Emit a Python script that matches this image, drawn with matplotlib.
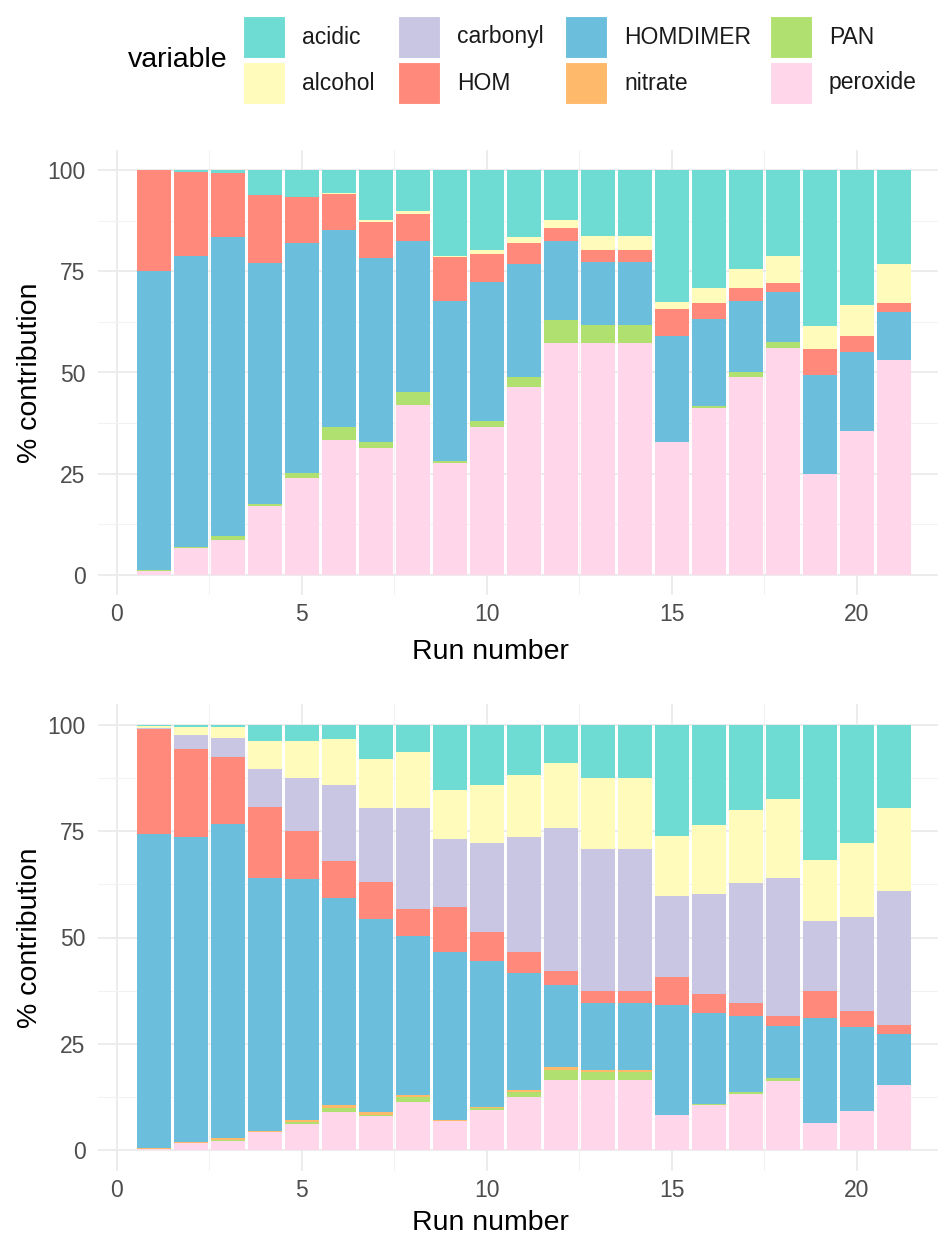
import numpy as np
import matplotlib
matplotlib.use("Agg")
import matplotlib.pyplot as plt
from matplotlib.patches import Rectangle

plt.rcParams['font.family'] = ['Liberation Sans', 'DejaVu Sans']

runs = np.arange(1, 22)

# stacking order, bottom -> top
variables = ["peroxide", "PAN", "nitrate", "HOMDIMER", "HOM", "carbonyl", "alcohol", "acidic"]
colours = {
    "acidic": "#6EDCD2",
    "alcohol": "#FFFCBB",
    "carbonyl": "#C9C6E3",
    "HOM": "#FF8A7B",
    "HOMDIMER": "#6CBEDD",
    "nitrate": "#FFB96B",
    "PAN": "#B0E170",
    "peroxide": "#FFD6EA",
}

# ---- upper panel (% contribution per run)
top_peroxide = [1.0, 6.5, 8.5, 17.1, 24.0, 33.3, 31.3, 42.0, 27.6, 36.6, 46.3,
                57.4, 57.4, 57.4, 32.8, 41.2, 48.9, 56.1, 24.9, 35.5, 53.0]
top_PAN = [0.3, 0.3, 1.0, 0.4, 1.2, 3.3, 1.5, 3.2, 0.4, 1.3, 2.7,
           5.7, 4.3, 4.3, 0.1, 0.5, 1.2, 1.4, 0.0, 0.0, 0.0]
top_nitrate = [0.0] * 21
top_HOMDIMER = [73.8, 71.9, 73.9, 59.6, 56.9, 48.7, 45.6, 37.4, 39.7, 34.5, 27.9,
                19.3, 15.7, 15.7, 26.0, 21.5, 17.5, 12.5, 24.6, 19.6, 12.0]
top_HOM = [24.9, 20.8, 15.8, 16.9, 11.3, 8.9, 8.9, 6.5, 10.8, 6.9, 5.0,
           3.2, 3.0, 3.0, 6.8, 4.0, 3.2, 2.2, 6.3, 3.8, 2.1]
top_carbonyl = [0.0] * 21
top_alcohol = [0.0, 0.0, 0.0, 0.0, 0.0, 0.2, 0.4, 0.8, 0.4, 0.9, 1.5,
               2.2, 3.4, 3.4, 1.7, 3.8, 4.8, 6.6, 5.7, 7.9, 9.7]
top_acidic = [0.0, 0.5, 0.8, 6.0, 6.6, 5.6, 12.3, 10.1, 21.1, 19.8, 16.6,
              12.2, 16.2, 16.2, 32.6, 29.0, 24.4, 21.2, 38.5, 33.2, 23.2]

# ---- lower panel
bot_peroxide = [0.2, 1.6, 2.1, 4.2, 6.0, 8.8, 8.0, 11.2, 6.7, 9.3, 12.5,
                16.5, 16.5, 16.5, 8.1, 10.6, 13.1, 16.1, 6.2, 9.2, 15.2]
bot_PAN = [0.0, 0.1, 0.3, 0.1, 0.5, 1.0, 0.3, 1.2, 0.1, 0.5, 1.1,
           2.2, 1.8, 1.8, 0.0, 0.2, 0.6, 0.7, 0.0, 0.0, 0.0]
bot_nitrate = [0.1, 0.2, 0.3, 0.2, 0.4, 0.8, 0.5, 0.5, 0.2, 0.3, 0.4,
               0.9, 0.5, 0.5, 0.1, 0.0, 0.0, 0.0, 0.0, 0.0, 0.0]
bot_HOMDIMER = [74.0, 71.8, 74.1, 59.6, 56.8, 48.7, 45.5, 37.5, 39.5, 34.4, 27.7,
                19.1, 15.8, 15.8, 25.8, 21.5, 17.8, 12.4, 24.9, 19.7, 12.1]
bot_HOM = [24.9, 20.7, 15.8, 16.7, 11.4, 8.7, 8.8, 6.3, 10.8, 6.7, 4.8,
           3.3, 2.7, 2.7, 6.7, 4.3, 3.0, 2.3, 6.2, 3.7, 2.1]
bot_carbonyl = [0.2, 3.2, 4.3, 9.0, 12.5, 18.0, 17.4, 23.8, 16.0, 21.1, 27.1,
                33.8, 33.5, 33.5, 19.1, 23.7, 28.4, 32.6, 16.7, 22.3, 31.6]
bot_alcohol = [0.5, 2.0, 2.6, 6.5, 8.6, 10.7, 11.6, 13.1, 11.4, 13.6, 14.7,
               15.4, 16.7, 16.7, 14.1, 16.2, 17.1, 18.6, 14.2, 17.3, 19.6]
bot_acidic = [0.1, 0.4, 0.5, 3.7, 3.8, 3.3, 7.9, 6.4, 15.3, 14.1, 11.7,
              8.8, 12.5, 12.5, 26.1, 23.5, 20.0, 17.3, 31.8, 27.8, 19.4]

top_data = {"peroxide": top_peroxide, "PAN": top_PAN, "nitrate": top_nitrate,
            "HOMDIMER": top_HOMDIMER, "HOM": top_HOM, "carbonyl": top_carbonyl,
            "alcohol": top_alcohol, "acidic": top_acidic}
bot_data = {"peroxide": bot_peroxide, "PAN": bot_PAN, "nitrate": bot_nitrate,
            "HOMDIMER": bot_HOMDIMER, "HOM": bot_HOM, "carbonyl": bot_carbonyl,
            "alcohol": bot_alcohol, "acidic": bot_acidic}

W, H = 938, 1241
fig = plt.figure(figsize=(W / 100, H / 100), dpi=100)


def px_axes(left, top, right, bottom):
    return fig.add_axes([left / W, 1 - bottom / H, (right - left) / W, (bottom - top) / H])


def draw_panel(ax, data):
    base = np.zeros(len(runs))
    for v in variables:
        vals = np.array(data[v])
        ax.bar(runs, vals, bottom=base, width=0.9, color=colours[v], linewidth=0)
        base += vals
    ax.set_xlim(-0.51, 22.19)
    ax.set_ylim(-5, 105)
    ax.set_xticks([0, 5, 10, 15, 20])
    ax.set_xticks([2.5, 7.5, 12.5, 17.5], minor=True)
    ax.set_yticks([0, 25, 50, 75, 100])
    ax.set_yticks([12.5, 37.5, 62.5, 87.5], minor=True)
    ax.set_axisbelow(True)
    ax.grid(which="major", color="#EBEBEB", linewidth=1.3)
    ax.grid(which="minor", color="#F2F2F2", linewidth=0.8)
    for s in ax.spines.values():
        s.set_visible(False)
    ax.tick_params(which="both", length=0, labelsize=16.5, labelcolor="#4D4D4D")
    ax.tick_params(axis="y", pad=9)
    ax.tick_params(axis="x", pad=6)
    ax.set_xlabel("Run number", fontsize=20.5, va="center")
    ax.set_ylabel("% contribution", fontsize=20.5, va="center")


ax1 = px_axes(98, 150, 938, 595)
draw_panel(ax1, top_data)
ax1.xaxis.set_label_coords((490 - 98) / 840, (595 - 652) / 445)
ax1.yaxis.set_label_coords((30 - 98) / 840, 0.5)

ax2 = px_axes(98, 704, 938, 1171)
draw_panel(ax2, bot_data)
ax2.xaxis.set_label_coords((490 - 98) / 840, (1171 - 1223) / 467)
ax2.yaxis.set_label_coords((30 - 98) / 840, 0.5)

# legend: 2 rows x 4 columns, filled column-wise
legend_order = ["acidic", "alcohol", "carbonyl", "HOM", "HOMDIMER", "nitrate", "PAN", "peroxide"]
col_x = [243, 398, 565, 770]
row_y = [16, 62]
key = 42
for i, name in enumerate(legend_order):
    cx = col_x[i // 2]
    ry = row_y[i % 2]
    fig.add_artist(Rectangle((cx / W, 1 - (ry + key) / H), key / W, key / H,
                             transform=fig.transFigure, facecolor=colours[name],
                             edgecolor="white", linewidth=0.8))
    fig.text((cx + key + 17) / W, 1 - (ry + key / 2) / H, name,
             fontsize=16.5, va="center", ha="left", color="#1A1A1A")
fig.text(228 / W, 1 - 60 / H, "variable", fontsize=20.5, ha="right", va="center")

fig.savefig("out.png", dpi=100, facecolor="white")
